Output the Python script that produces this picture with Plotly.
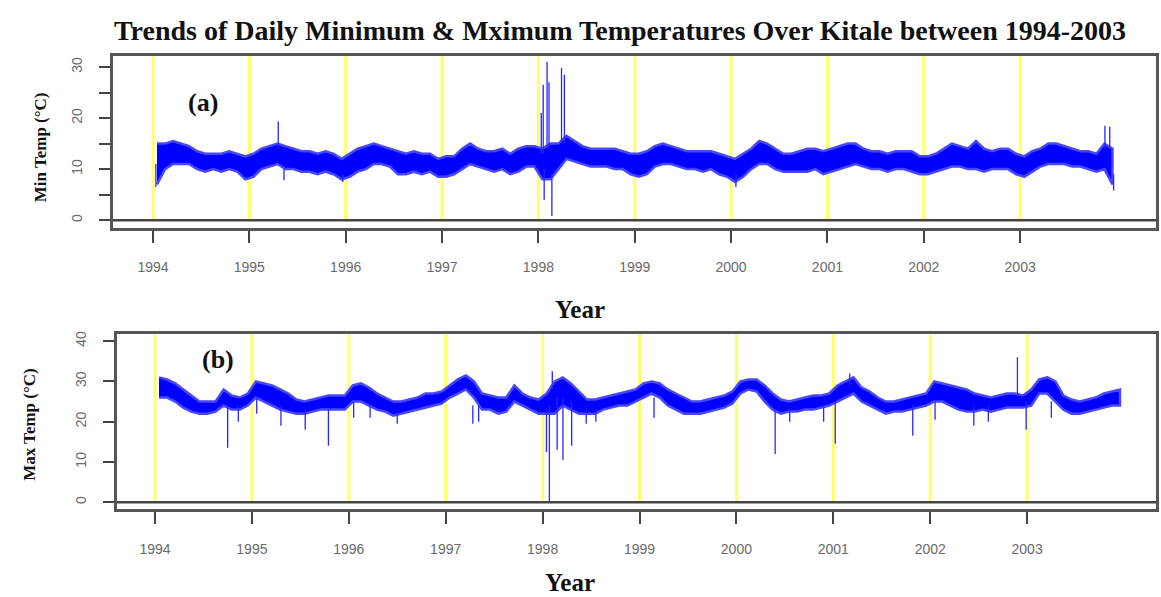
import plotly.graph_objects as go

# ---------------- data ----------------
years = [1994, 1995, 1996, 1997, 1998, 1999, 2000, 2001, 2002, 2003]
year_labels = [str(y) for y in years]

# monthly lower / upper edge of the daily minimum temperature band (deg C)
min_lo = [7, 10, 11, 11, 11, 10, 9.5, 10, 9.5, 10, 9.5, 8,
          8.5, 10, 10.5, 11, 10, 10, 9.5, 9.5, 9, 9.5, 9, 8,
          8.5, 9.5, 10, 11, 11, 10.5, 9, 9, 9.5, 9, 9.5, 8.5,
          8.5, 9, 10, 11, 10.5, 10, 9.5, 10, 9, 9.5, 10.5, 10.5,
          8, 8, 10, 12, 11.5, 11, 10.5, 10.5, 10.5, 10, 10, 9,
          8.5, 9, 10.5, 11, 11, 10.5, 10, 10, 9.5, 10, 9, 8.5,
          7.5, 8.5, 10, 11, 11, 10, 9.5, 9.5, 9.5, 9.5, 10, 9,
          9.5, 10, 10.5, 11, 10.5, 10, 10, 9.5, 10, 10, 9.5, 9,
          9, 9.5, 10, 10.5, 10.5, 10, 10, 9.5, 10, 10, 10, 9,
          8.5, 9.5, 10.5, 11, 11, 11, 10.5, 10.5, 10, 9.5, 10, 7]
min_hi = [15, 15, 15.5, 15, 14.5, 13.5, 13, 13, 13, 13.5, 13, 12.5,
          13, 14, 14.5, 15, 14.5, 14, 13.5, 13.5, 13, 13.5, 13, 12,
          13, 14, 14.5, 15, 14.5, 14, 13.5, 13, 13.5, 13, 13, 12,
          12.5, 12.5, 14, 15, 14, 13.5, 13.5, 14, 13, 14, 14.5, 14.5,
          14, 15, 15, 16.5, 15.5, 14.5, 14, 14, 14, 14, 13.5, 13,
          13, 13.5, 14.5, 15, 14.5, 14, 13.5, 13.5, 13.5, 13.5, 13, 12.5,
          12, 13, 14, 15.5, 15, 14, 13, 13, 13.5, 14, 14, 13.5,
          14, 14.5, 15, 15, 14, 13.5, 13.5, 13, 13.5, 13.5, 13.5, 12.5,
          12.5, 13, 14, 15, 14.5, 14, 15.5, 14, 13.5, 14, 14, 13,
          12.5, 13.5, 14, 15, 15, 14.5, 14, 13.5, 13.5, 13, 15, 14]

# monthly lower / upper edge of the daily maximum temperature band (deg C)
max_lo = [26, 26, 25, 23.5, 22.5, 22, 22, 22.5, 24, 23, 23, 24,
          26, 25, 24, 23, 22.5, 22, 22, 22.5, 23, 23, 23, 23,
          25, 25, 24, 23, 22.5, 21.5, 22, 22.5, 23, 23.5, 24, 24.5,
          26, 27, 28, 26, 23, 23, 22, 22.5, 25, 24, 23, 22,
          22, 22, 24, 23, 22, 22, 22, 23, 23.5, 24, 24, 25,
          26, 27, 26, 24, 23, 22, 22, 22, 22.5, 23, 23.5, 24.5,
          27, 28, 27.5, 25, 23, 22, 22.5, 22.5, 23, 23, 23.5, 24,
          25, 26, 27, 25, 24, 23, 22, 22.5, 22.5, 23, 23.5, 24,
          25, 25, 24, 23, 22.5, 22.5, 23, 22.5, 23, 23.5, 23.5, 23.5,
          24, 27, 27, 25, 23, 22, 22, 22.5, 23, 23.5, 24, 24]
max_hi = [31, 30.5, 29.5, 28, 26.5, 25, 25, 25, 28, 26.5, 26, 27,
          30, 29.5, 29, 28, 27, 25.5, 25, 25.5, 26, 26.5, 26.5, 26.5,
          29, 29.5, 28.5, 27, 26, 25, 25, 25.5, 26, 27, 27, 27.5,
          29, 30.5, 31.5, 30, 27, 26.5, 26, 26, 29, 27, 26, 25.5,
          27, 30, 31, 29.5, 27.5, 25.5, 25.5, 26, 26.5, 27, 27.5, 28,
          29.5, 30, 29.5, 28, 27, 26, 25, 25, 25.5, 26, 26.5, 27.5,
          30, 30.5, 30.5, 29, 27, 25.5, 25, 25.5, 26, 26.5, 26.5, 27,
          29, 30, 31, 28.5, 27.5, 26, 25, 25, 25.5, 26, 26.5, 27,
          30, 29.5, 29, 28.5, 28, 27, 26.5, 26, 26.5, 27, 27, 26.5,
          28, 30.5, 31, 30, 26.5, 25.5, 25, 25.5, 26, 27, 27.5, 28]

# isolated daily extremes: date (decimal year), band level, extreme value
min_spike_t = [1994.03, 1995.30, 1995.36, 1995.97, 1998.03, 1998.05, 1998.06,
               1998.09, 1998.11, 1998.14, 1998.24, 1998.27, 2000.05, 2003.88,
               2003.93, 2003.97]
min_spike_base = [11, 14, 10, 9, 13, 13, 10, 14, 14, 9, 15, 15, 9, 14, 14, 9]
min_spike_val = [6.5, 19.3, 7.8, 7.5, 21, 26.5, 4, 31, 27, 0.8, 29.8, 28.5,
                 6.5, 18.5, 18.3, 5.8]

max_spike_t = [1994.75, 1994.86, 1995.05, 1995.30, 1995.55, 1995.79, 1996.05,
               1996.22, 1996.50, 1997.28, 1997.34, 1998.04, 1998.07, 1998.10,
               1998.15, 1998.21, 1998.30, 1998.45, 1998.55, 1999.15, 2000.40,
               2000.55, 2000.90, 2001.02, 2001.17, 2001.82, 2002.05, 2002.45,
               2002.60, 2002.90, 2002.99, 2003.25]
max_spike_base = [24, 24, 26, 24, 23, 23, 25, 24, 22, 24, 24, 23, 24, 28, 26,
                  26, 25, 23, 23, 26, 23, 23, 24, 25, 29, 24, 25, 24, 24, 27,
                  25, 25]
max_spike_val = [13.5, 20, 22, 19, 18, 14, 21, 21, 19.5, 19.5, 20, 12.5, 0.3,
                 32.5, 13, 10.5, 14, 19.5, 20, 21, 12, 20, 20, 14.5, 32, 16.5,
                 20.5, 19, 20, 36, 18, 21]

# ---------------- figure ----------------
BLUE = "#0000ff"
EDGE = "#4747ff"
SPIKE = "#2626ff"
YELLOW = "#ffff66"
FRAME = "#555555"
SERIF = "Liberation Serif"

month_t = [y + (m + 0.5) / 12 for y in years for m in range(12)]

fig = go.Figure()


def add_series(lo, hi, st, sb, sv, xa, ya):
    fig.add_trace(go.Scatter(
        x=month_t + month_t[::-1], y=hi + lo[::-1],
        fill="toself", fillcolor=BLUE, mode="lines",
        line=dict(color=EDGE, width=2.5),
        xaxis=xa, yaxis=ya, hoverinfo="skip", showlegend=False))
    sx, sy = [], []
    for t, b, v in zip(st, sb, sv):
        sx += [t, t, None]
        sy += [b, v, None]
    fig.add_trace(go.Scatter(
        x=sx, y=sy, mode="lines", line=dict(color=SPIKE, width=1.3),
        xaxis=xa, yaxis=ya, hoverinfo="skip", showlegend=False))


add_series(min_lo, min_hi, min_spike_t, min_spike_base, min_spike_val, "x", "y")
add_series(max_lo, max_hi, max_spike_t, max_spike_base, max_spike_val, "x2", "y2")

W, H = 1161, 597
tickfont = dict(family="Liberation Sans", size=14, color="#6a6a6a")

common_x = dict(tickvals=years, ticktext=year_labels, ticks="outside",
                ticklen=12, tickwidth=1.5, tickcolor="#444",
                showline=True, mirror=True, linecolor=FRAME, linewidth=2.5,
                showgrid=False, zeroline=False, tickfont=tickfont,
                ticklabelstandoff=13)
common_y = dict(ticks="outside", ticklen=11, tickwidth=1.5, tickcolor="#444",
                showline=True, mirror=True, linecolor=FRAME, linewidth=2.5,
                showgrid=False, zeroline=False, tickfont=tickfont,
                tickangle=-90, ticklabelstandoff=12)

fig.update_layout(
    width=W, height=H, margin=dict(l=0, r=0, t=0, b=0),
    paper_bgcolor="white", plot_bgcolor="white", showlegend=False,
    xaxis=dict(domain=[113 / W, 1156 / W], range=[1993.585, 2004.41],
               anchor="y", **common_x),
    yaxis=dict(domain=[1 - 226 / H, 1 - 53 / H], range=[-1.5, 32.2],
               anchor="x", tickvals=[0, 10, 20, 30],
               minor=dict(dtick=5, ticks="outside", ticklen=11,
                          tickcolor="#444", tickwidth=1.5),
               **common_y),
    xaxis2=dict(domain=[117 / W, 1156 / W], range=[1993.608, 2004.33],
                anchor="y2", **common_x),
    yaxis2=dict(domain=[1 - 509 / H, 1 - 333 / H], range=[-1.8, 41.7],
                anchor="x2", tickvals=[0, 10, 20, 30, 40], **common_y),
)

shapes = []
for xa, ya, top in (("x", "y", 32.2), ("x2", "y2", 41.7)):
    for y in years:
        shapes.append(dict(type="line", xref=xa, yref=ya, x0=y, x1=y,
                           y0=0, y1=top, layer="below",
                           line=dict(color=YELLOW, width=3)))
    shapes.append(dict(type="line", xref=xa + " domain", yref=ya,
                       x0=0, x1=1, y0=0, y1=0, layer="above",
                       line=dict(color="#444", width=2.5)))
fig.update_layout(shapes=shapes)

ann = [
    dict(text="<b>Trends of Daily Minimum & Mximum Temperatures Over Kitale between 1994-2003</b>",
         x=620 / W, y=1 - 28 / H, font=dict(family=SERIF, size=28, color="#111")),
    dict(text="<b>(a)</b>", x=203 / W, y=1 - 100 / H,
         font=dict(family=SERIF, size=26, color="#111")),
    dict(text="<b>(b)</b>", x=218 / W, y=1 - 358 / H,
         font=dict(family=SERIF, size=26, color="#111")),
    dict(text="<b>Year</b>", x=580 / W, y=1 - 308 / H,
         font=dict(family=SERIF, size=25, color="#111")),
    dict(text="<b>Year</b>", x=570 / W, y=1 - 582 / H,
         font=dict(family=SERIF, size=25, color="#111")),
    dict(text="<b>Min Temp (°C)</b>", x=40 / W, y=1 - 145 / H, textangle=-90,
         font=dict(family=SERIF, size=17, color="#111")),
    dict(text="<b>Max Temp (°C)</b>", x=30 / W, y=1 - 424 / H, textangle=-90,
         font=dict(family=SERIF, size=17, color="#111")),
]
for a in ann:
    a.update(xref="paper", yref="paper", showarrow=False,
             xanchor="center", yanchor="middle")
fig.update_layout(annotations=ann)

fig.write_html("out.html")
